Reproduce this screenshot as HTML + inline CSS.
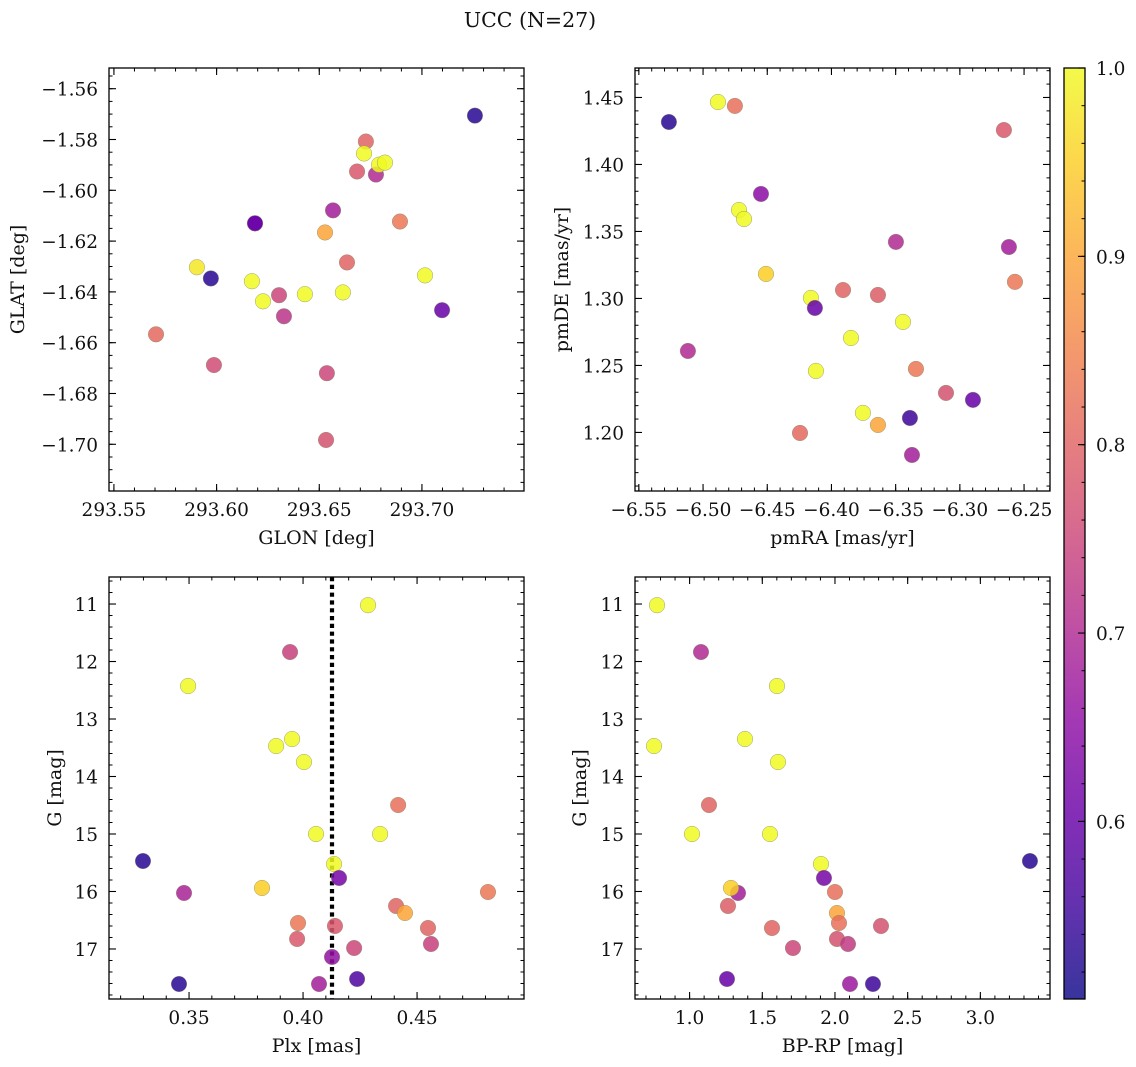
<!DOCTYPE html>
<html>
<head>
<meta charset="utf-8">
<style>
  html, body { margin: 0; padding: 0; background: #ffffff; }
  svg { display: block; font-family: "DejaVu Serif", "Liberation Serif", serif; }
</style>
</head>
<body>
<svg id="chart" width="1136" height="1067" viewBox="0 0 1136 1067" xmlns="http://www.w3.org/2000/svg">
  <rect x="0" y="0" width="1136" height="1067" fill="#ffffff"></rect>
  <text x="530" y="27" font-size="20.5" text-anchor="middle" fill="#111">UCC (N=27)</text>
  <defs>
    <linearGradient id="plasmaGrad" x1="0" y1="1" x2="0" y2="0"></linearGradient>
  </defs>
</svg>
<script>
// ---------- data ----------
const p1Glon = [293.7258,293.6727,293.6718,293.6684,293.6776,293.6791,293.682,293.6567,293.6187,293.6528,293.6893,293.6635,293.5904,293.5972,293.6172,293.7015,293.6304,293.6226,293.643,293.6615,293.7098,293.6328,293.5705,293.5987,293.6537,293.6533,293.6187];
const p1Glat = [-1.5706,-1.5808,-1.5855,-1.5926,-1.5938,-1.5899,-1.5891,-1.6079,-1.6130,-1.6166,-1.6123,-1.6284,-1.6303,-1.6347,-1.6358,-1.6335,-1.6413,-1.6437,-1.6409,-1.6402,-1.6472,-1.6496,-1.6567,-1.6688,-1.6720,-1.6983,-1.6130];
const p1Prob = [0.53,0.80,1.0,0.78,0.70,1.0,1.0,0.68,0.64,0.90,0.83,0.80,0.98,0.53,1.0,1.0,0.75,1.0,1.0,1.0,0.60,0.72,0.81,0.76,0.75,0.77,0.60];

const p2PmRA = [-6.5266,-6.4884,-6.4752,-6.2657,-6.4549,-6.472,-6.4681,-6.3498,-6.2618,-6.451,-6.2571,-6.391,-6.3638,-6.416,-6.4129,-6.3443,-6.3848,-6.5118,-6.3342,-6.4121,-6.3108,-6.2898,-6.3755,-6.3389,-6.3638,-6.4245,-6.3373];
const p2PmDE = [1.4317,1.4466,1.4437,1.4257,1.378,1.366,1.3593,1.3422,1.3384,1.3183,1.3124,1.3063,1.3026,1.3004,1.2929,1.2825,1.2705,1.2608,1.2474,1.2459,1.2295,1.2243,1.2146,1.2108,1.2056,1.1996,1.1832];
const p2Prob = [0.53,1.0,0.82,0.78,0.65,1.0,1.0,0.70,0.68,0.95,0.83,0.80,0.79,1.0,0.60,1.0,1.0,0.70,0.83,1.0,0.77,0.60,1.0,0.55,0.90,0.81,0.68];

const p3Plx = [0.4285,0.3943,0.3496,0.3882,0.3952,0.4004,0.4417,0.4057,0.4338,0.3298,0.4136,0.4158,0.3478,0.382,0.4811,0.4408,0.4447,0.3978,0.414,0.4548,0.3974,0.4561,0.4224,0.4127,0.4237,0.3456,0.4070];
const p3G = [11.02,11.835,12.426,13.47,13.348,13.748,14.496,15.0,15.0,15.47,15.522,15.765,16.026,15.939,16.009,16.252,16.374,16.548,16.6,16.635,16.826,16.913,16.983,17.139,17.522,17.609,17.609];
const p3Prob = [1.0,0.74,1.0,1.0,1.0,1.0,0.82,1.0,1.0,0.53,1.0,0.62,0.69,0.95,0.83,0.80,0.90,0.83,0.78,0.80,0.78,0.74,0.75,0.66,0.57,0.53,0.68];
const plxMedian = 0.4127;

const p4BpRp = [0.776,1.0784,1.6011,0.7552,1.381,1.608,1.1334,1.0165,1.553,3.341,1.9037,1.9243,1.3329,1.2847,2.0,1.2641,2.0138,2.0275,2.3164,1.5667,2.0138,2.0894,1.7111,1.2572,2.1032,2.2613];
const p4G = [11.02,11.835,12.426,13.47,13.348,13.748,14.496,15.0,15.0,15.47,15.522,15.765,16.026,15.939,16.009,16.252,16.374,16.548,16.6,16.635,16.826,16.913,16.983,17.522,17.609,17.609];
const p4Prob = [1.0,0.70,1.0,1.0,1.0,1.0,0.80,1.0,1.0,0.53,1.0,0.62,0.68,0.95,0.82,0.79,0.90,0.82,0.77,0.80,0.77,0.73,0.75,0.60,0.67,0.55];

const p1XTicks = [293.55,293.60,293.65,293.70];
const p1XLabels = ["293.55","293.60","293.65","293.70"];
const p1YTicks = [-1.56,-1.58,-1.60,-1.62,-1.64,-1.66,-1.68,-1.70];
const p1YLabels = ["−1.56","−1.58","−1.60","−1.62","−1.64","−1.66","−1.68","−1.70"];
const p2XTicks = [-6.55,-6.50,-6.45,-6.40,-6.35,-6.30,-6.25];
const p2XLabels = ["−6.55","−6.50","−6.45","−6.40","−6.35","−6.30","−6.25"];
const p2YTicks = [1.20,1.25,1.30,1.35,1.40,1.45];
const p2YLabels = ["1.20","1.25","1.30","1.35","1.40","1.45"];
const p3XTicks = [0.35,0.40,0.45];
const p3XLabels = ["0.35","0.40","0.45"];
const gTicks = [11,12,13,14,15,16,17];
const gLabels = ["11","12","13","14","15","16","17"];
const p4XTicks = [1.0,1.5,2.0,2.5,3.0];
const p4XLabels = ["1.0","1.5","2.0","2.5","3.0"];
const cbTicks = [0.6,0.7,0.8,0.9,1.0];
const cbLabels = ["0.6","0.7","0.8","0.9","1.0"];
const vMin = 0.5057, vMax = 1.0;

// ---------- helpers ----------
const NS = "http://www.w3.org/2000/svg";
const svg = document.getElementById('chart');
const plasma = ["#0d0887","#41049d","#6a00a8","#8f0da4","#b12a90","#cc4778","#e16462","#f2844b","#fca636","#fcce25","#f0f921"];
function hex(c){return [parseInt(c.slice(1,3),16),parseInt(c.slice(3,5),16),parseInt(c.slice(5,7),16)];}
function cmap(v){
  let t=(v-vMin)/(vMax-vMin); t=Math.max(0,Math.min(1,t));
  const f=t*10, i=Math.min(9,Math.floor(f)), r=f-i;
  const a=hex(plasma[i]), b=hex(plasma[i+1]);
  return "rgb("+a.map((x,k)=>Math.round(x+(b[k]-x)*r)).join(",")+")";
}
function el(tag, attrs, parent){
  const e=document.createElementNS(NS,tag);
  for(const k in attrs) e.setAttribute(k, attrs[k]);
  (parent||svg).appendChild(e);
  return e;
}
function scale(d0,d1,r0,r1){return v=>r0+(v-d0)/(d1-d0)*(r1-r0);}
const TICKFS = 18.5, LABFS = 19;

function panel(cfg){
  const g=el('g',{});
  
  
  const [L,T,R,B]=cfg.box;
  const sx=scale(cfg.xd[0],cfg.xd[1],L,R);
  const sy=scale(cfg.yd[0],cfg.yd[1],B,T);
  const mg=el('g',{stroke:'#000','stroke-width':1},g);
  
  
  const xlo=Math.min(cfg.xd[0],cfg.xd[1]), xhi=Math.max(cfg.xd[0],cfg.xd[1]);
  for(let k=Math.ceil(xlo/cfg.xm-1e-6);k*cfg.xm<=xhi+1e-9;k++){
    const x=sx(k*cfg.xm);
    el('line',{x1:x,y1:B,x2:x,y2:B-3.5},mg);
    el('line',{x1:x,y1:T,x2:x,y2:T+3.5},mg);
  }
  const ylo=Math.min(cfg.yd[0],cfg.yd[1]), yhi=Math.max(cfg.yd[0],cfg.yd[1]);
  for(let k=Math.ceil(ylo/cfg.ym-1e-6);k*cfg.ym<=yhi+1e-9;k++){
    const y=sy(k*cfg.ym);
    el('line',{x1:L,y1:y,x2:L+3.5,y2:y},mg);
    el('line',{x1:R,y1:y,x2:R-3.5,y2:y},mg);
  }
  cfg.xt.forEach((v,i)=>{
    const x=sx(v);
    el('line',{x1:x,y1:B,x2:x,y2:B-7,stroke:'#000','stroke-width':1.1},g);
    el('line',{x1:x,y1:T,x2:x,y2:T+7,stroke:'#000','stroke-width':1.1},g);
    const t=el('text',{x:x,y:B+25,'font-size':TICKFS,'text-anchor':'middle',fill:'#111'},g);
    
    
    t.textContent=cfg.xl[i];
  });
  cfg.yt.forEach((v,i)=>{
    const y=sy(v);
    el('line',{x1:L,y1:y,x2:L+7,y2:y,stroke:'#000','stroke-width':1.1},g);
    el('line',{x1:R,y1:y,x2:R-7,y2:y,stroke:'#000','stroke-width':1.1},g);
    const t=el('text',{x:L-11,y:y+7,'font-size':TICKFS,'text-anchor':'end',fill:'#111'},g);
    
    
    t.textContent=cfg.yl[i];
  });
  if(cfg.vline!==undefined){
    const ln=el('line',{x1:sx(cfg.vline),y1:T,x2:sx(cfg.vline),y2:B,stroke:'#000','stroke-width':4.2,'stroke-dasharray':'4.2 3.6'},g);
    
    
  }
  const pg=el('g',{},g);
  
  
  cfg.xs.forEach((v,i)=>{
    const c=el('circle',{cx:sx(v),cy:sy(cfg.ys[i]),r:7.8,fill:cmap(cfg.cs[i]),'fill-opacity':0.85,stroke:'#8a8a6a','stroke-width':0.5,'stroke-opacity':0.8},pg);
    
    
  });
  const fr=el('rect',{x:L,y:T,width:R-L,height:B-T,fill:'none',stroke:'#000','stroke-width':1.3},g);
  
  
  const xt=el('text',{x:(L+R)/2,y:B+53,'font-size':LABFS,'text-anchor':'middle',fill:'#111'},g);
  
  
  xt.textContent=cfg.xlab;
  const yx=cfg.ylabX, yy=(T+B)/2;
  const yt=el('text',{x:yx,y:yy,'font-size':LABFS,'text-anchor':'middle',fill:'#111',transform:'rotate(-90 '+yx+' '+yy+')'},g);
  
  
  yt.textContent=cfg.ylab;
}

panel({name:'glon-glat-panel',box:[109,68,524,491],xd:[293.5476,293.7497],yd:[-1.71839,-1.55185],
  xt:p1XTicks,xl:p1XLabels,yt:p1YTicks,yl:p1YLabels,xm:0.01,ym:0.005,
  xs:p1Glon,ys:p1Glat,cs:p1Prob,xlab:'GLON [deg]',ylab:'GLAT [deg]',ylabX:24});
panel({name:'pm-panel',box:[635,68,1050,491],xd:[-6.553,-6.2298],yd:[1.1563,1.472],
  xt:p2XTicks,xl:p2XLabels,yt:p2YTicks,yl:p2YLabels,xm:0.01,ym:0.01,
  xs:p2PmRA,ys:p2PmDE,cs:p2Prob,xlab:'pmRA [mas/yr]',ylab:'pmDE [mas/yr]',ylabX:568});
panel({name:'plx-g-panel',box:[109,577,524,999],xd:[0.3149,0.4969],yd:[17.87,10.53],
  xt:p3XTicks,xl:p3XLabels,yt:gTicks,yl:gLabels,xm:0.01,ym:0.2,
  xs:p3Plx,ys:p3G,cs:p3Prob,vline:plxMedian,xlab:'Plx [mas]',ylab:'G [mag]',ylabX:61});
panel({name:'cmd-panel',box:[635,577,1050,999],xd:[0.6245,3.479],yd:[17.87,10.53],
  xt:p4XTicks,xl:p4XLabels,yt:gTicks,yl:gLabels,xm:0.1,ym:0.2,
  xs:p4BpRp,ys:p4G,cs:p4Prob,xlab:'BP-RP [mag]',ylab:'G [mag]',ylabX:586});

// ---------- colorbar ----------
const grad=document.getElementById('plasmaGrad');
plasma.forEach((c,i)=>{ el('stop',{offset:(i*10)+'%','stop-color':c},grad); });
const cb=el('g',{});


const cbL=1064, cbR=1085, cbT=68, cbB=999;
const cy=scale(vMin,vMax,cbB,cbT);
const cbr=el('rect',{x:cbL,y:cbT,width:cbR-cbL,height:cbB-cbT,fill:'url(#plasmaGrad)','fill-opacity':0.82},cb);


for(let v=0.52; v<=1.0001; v+=0.02){
  const y=cy(v);
  el('line',{x1:cbR,y1:y,x2:cbR-3.5,y2:y,stroke:'#000','stroke-width':1},cb);
}
cbTicks.forEach((v,i)=>{
  const y=cy(v);
  el('line',{x1:cbR,y1:y,x2:cbR-7,y2:y,stroke:'#000','stroke-width':1.1},cb);
  const t=el('text',{x:cbR+11,y:y+7,'font-size':TICKFS,fill:'#111'},cb);
  
  
  t.textContent=cbLabels[i];
});
const cbf=el('rect',{x:cbL,y:cbT,width:cbR-cbL,height:cbB-cbT,fill:'none',stroke:'#000','stroke-width':1.3},cb);


</script>
</body>
</html>
